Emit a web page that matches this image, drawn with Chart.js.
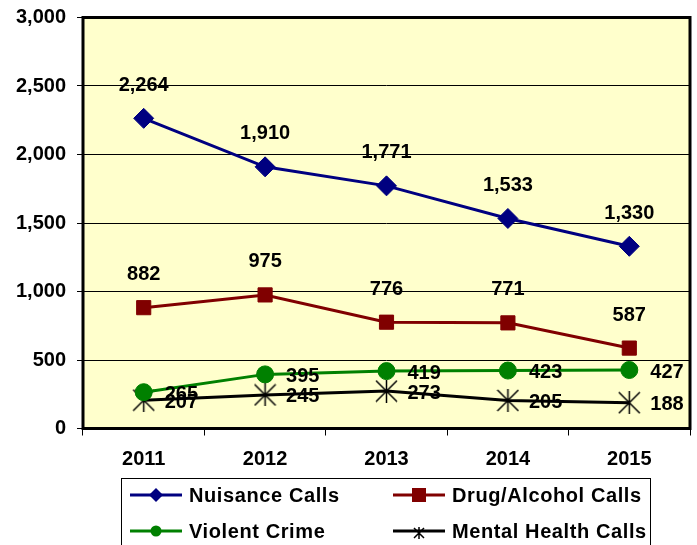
<!DOCTYPE html>
<html>
<head>
<meta charset="utf-8">
<script src="https://cdn.jsdelivr.net/npm/chart.js@4"></script>
<style>
  html, body { margin: 0; padding: 0; background: #fff; }
  #wrap { width: 697px; height: 545px; position: relative; }
</style>
</head>
<body>
<div id="wrap"><canvas id="chart" width="697" height="545"></canvas></div>
<script>
const years = ["2011", "2012", "2013", "2014", "2015"];
const nuisanceCalls = [2264, 1910, 1771, 1533, 1330];
const drugAlcoholCalls = [882, 975, 776, 771, 587];
const violentCrime = [265, 395, 419, 423, 427];
const mentalHealthCalls = [207, 245, 273, 205, 188];
const yTicks = [0, 500, 1000, 1500, 2000, 2500, 3000];

const FONT = "'Liberation Sans', Arial, sans-serif";

// excel style star marker: X with a vertical bar
function starMarker(size) {
  const c = document.createElement("canvas");
  c.width = size;
  c.height = size;
  const g = c.getContext("2d");
  const h = size / 2;
  g.strokeStyle = "#000";
  g.lineWidth = 1.5;
  g.beginPath();
  g.moveTo(1, 1);
  g.lineTo(size - 1, size - 1);
  g.moveTo(size - 1, 1);
  g.lineTo(1, size - 1);
  g.moveTo(h, 0);
  g.lineTo(h, size);
  g.stroke();
  return c;
}
const starImg = starMarker(23);
const starSmall = starMarker(12);

const series = [
  { label: "Nuisance Calls", data: nuisanceCalls, color: "#000080", style: "rectRot", radius: 10, labelPos: "above" },
  { label: "Drug/Alcohol Calls", data: drugAlcoholCalls, color: "#800000", style: "rect", radius: 10, labelPos: "above" },
  { label: "Violent Crime", data: violentCrime, color: "#008000", style: "circle", radius: 8.5, labelPos: "right" },
  { label: "Mental Health Calls", data: mentalHealthCalls, color: "#000000", style: starImg, radius: 11, labelPos: "right" },
];

const plotBg = {
  id: "plotBg",
  beforeDraw(chart) {
    const { ctx, chartArea: a } = chart;
    ctx.save();
    ctx.fillStyle = "#FFFFCC";
    ctx.fillRect(a.left, a.top, a.right - a.left, a.bottom - a.top);
    ctx.restore();
  },
  afterDatasetsDraw(chart) {
    const { ctx, chartArea: a } = chart;
    ctx.save();
    ctx.strokeStyle = "#000";
    ctx.lineWidth = 3;
    ctx.strokeRect(a.left, a.top, a.right - a.left, a.bottom - a.top);
    ctx.restore();
  },
};

const valueLabels = {
  id: "valueLabels",
  afterDatasetsDraw(chart) {
    const ctx = chart.ctx;
    ctx.save();
    ctx.font = "bold 20px " + FONT;
    ctx.fillStyle = "#000";
    chart.data.datasets.forEach((ds, i) => {
      const meta = chart.getDatasetMeta(i);
      meta.data.forEach((pt, j) => {
        const txt = ds.data[j].toLocaleString("en-US");
        ctx.textBaseline = "middle";
        if (series[i].labelPos === "above") {
          ctx.textAlign = "center";
          ctx.fillText(txt, pt.x, pt.y - 33);
        } else {
          ctx.textAlign = "left";
          ctx.fillText(txt, pt.x + 21, pt.y + 2);
        }
      });
    });
    ctx.restore();
  },
};

const boxLegend = {
  id: "boxLegend",
  afterDraw(chart) {
    const ctx = chart.ctx;
    ctx.save();
    ctx.strokeStyle = "#000";
    ctx.lineWidth = 1;
    ctx.strokeRect(121.5, 478.5, 529, 80);
    ctx.font = "bold 20px " + FONT;
    ctx.letterSpacing = "0.6px";
    ctx.textBaseline = "middle";
    ctx.textAlign = "left";
    const cols = [130, 393];
    const rows = [495, 531];
    series.forEach((s, i) => {
      const x = cols[i % 2];
      const y = rows[Math.floor(i / 2)];
      ctx.strokeStyle = s.color;
      ctx.lineWidth = 3;
      ctx.beginPath();
      ctx.moveTo(x, y);
      ctx.lineTo(x + 52, y);
      ctx.stroke();
      const cx = x + 26;
      ctx.fillStyle = s.color;
      if (s.style === "rectRot") {
        ctx.beginPath();
        ctx.moveTo(cx, y - 7);
        ctx.lineTo(cx + 7, y);
        ctx.lineTo(cx, y + 7);
        ctx.lineTo(cx - 7, y);
        ctx.closePath();
        ctx.fill();
      } else if (s.style === "rect") {
        ctx.fillRect(cx - 7, y - 7, 14, 14);
      } else if (s.style === "circle") {
        ctx.beginPath();
        ctx.arc(cx, y, 5.5, 0, Math.PI * 2);
        ctx.fill();
      } else {
        ctx.drawImage(starSmall, cx - 6, y - 4);
      }
      ctx.fillStyle = "#000";
      ctx.fillText(s.label, x + 59, y + 1);
    });
    ctx.restore();
  },
};

new Chart(document.getElementById("chart"), {
  type: "line",
  data: {
    labels: years,
    datasets: series.map((s) => ({
      label: s.label,
      data: s.data,
      borderColor: s.color,
      backgroundColor: s.color,
      borderWidth: 3,
      pointStyle: s.style,
      pointRadius: s.radius,
      pointBackgroundColor: s.color,
      pointBorderColor: s.color,
      pointBorderWidth: 1,
      tension: 0,
      fill: false,
    })),
  },
  plugins: [plotBg, valueLabels, boxLegend],
  options: {
    responsive: false,
    animation: false,
    layout: { autoPadding: false, padding: { top: 17.5, right: 7, bottom: 0, left: 0 } },
    plugins: {
      legend: { display: false },
      tooltip: { enabled: false },
    },
    scales: {
      x: {
        offset: true,
        afterFit(scale) {
          scale.height = 116.5;
          scale.paddingLeft = 0;
          scale.paddingRight = 0;
        },
        grid: {
          offset: true,
          drawOnChartArea: false,
          drawTicks: true,
          tickLength: 7,
          color: "#000",
          lineWidth: 1,
        },
        border: { display: false },
        ticks: {
          color: "#000",
          padding: 12,
          font: { family: FONT, size: 20, weight: "bold" },
        },
      },
      y: {
        min: 0,
        max: 3000,
        afterFit(scale) {
          scale.width = 83;
          scale.paddingTop = 0;
          scale.paddingBottom = 0;
        },
        afterBuildTicks(scale) { scale.ticks = yTicks.map((v) => ({ value: v })); },
        grid: {
          color: "#000",
          lineWidth: 1,
          tickLength: 6,
        },
        border: { display: false },
        ticks: {
          color: "#000",
          padding: 11,
          font: { family: FONT, size: 20, weight: "bold" },
          callback: (v) => v.toLocaleString("en-US"),
        },
      },
    },
  },
});
</script>
</body>
</html>
